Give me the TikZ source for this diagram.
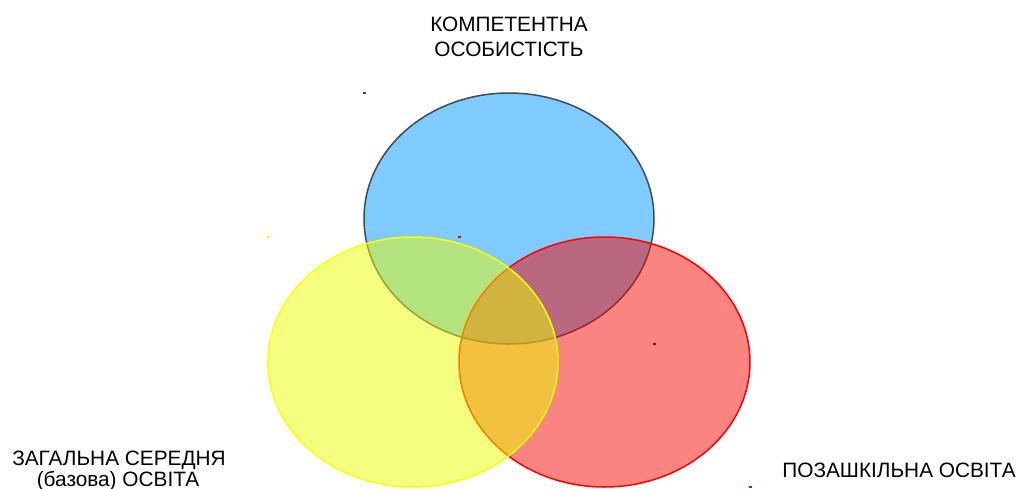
\documentclass[tikz,border=0pt]{standalone}
\usepackage{fontspec}
\setmainfont{Liberation Sans}
\definecolor{bluefill}{HTML}{0095FF}
\definecolor{yellowfill}{HTML}{EBFF00}
\definecolor{redfill}{HTML}{F30901}
\definecolor{bluestroke}{HTML}{3F4B57}
\definecolor{yellowstroke}{HTML}{FFFF00}
\definecolor{redstroke}{HTML}{FF0000}
\begin{document}
\begin{tikzpicture}[x=1pt,y=-1pt,
  circ/.style={line width=1.5pt, fill opacity=0.5},
  lbl/.style={anchor=base, inner sep=0pt, font=\fontsize{20.8}{24}\selectfont, text=black},
  dot/.style={inner sep=0pt, minimum width=3pt, minimum height=2pt}]
\useasboundingbox (0,0) rectangle (1021,488);
% circles
\draw[circ, draw=bluestroke, fill=bluefill] (509,218.5) ellipse [x radius=145pt, y radius=125.5pt];
\draw[circ, draw=redstroke, fill=redfill] (604.5,362) ellipse [x radius=145.5pt, y radius=125pt];
\draw[circ, draw=yellowstroke, fill=yellowfill] (413,362) ellipse [x radius=145pt, y radius=125pt];
% tiny marks
\node[dot, fill=bluestroke] (m1) at (364,93) {};
\node[dot, fill=yellowstroke] (m2) at (268,237) {};
\node[dot, fill=red!85!black] (m3) at (459,237) {};
\node[dot, fill=red!60!black] (m4) at (654,344) {};
\node[dot, fill=red] (m5) at (750,487) {};
% labels
\node[lbl] (t1) at (509,31) {КОМПЕТЕНТНА};
\node[lbl] (t2) at (509,56) {ОСОБИСТІСТЬ};
\node[lbl] (l1) at (119,465) {ЗАГАЛЬНА СЕРЕДНЯ};
\node[lbl] (l2) at (118,486.5) {(базова) ОСВІТА};
\node[lbl] (r1) at (899,477) {ПОЗАШКІЛЬНА ОСВІТА};
\end{tikzpicture}
\end{document}
